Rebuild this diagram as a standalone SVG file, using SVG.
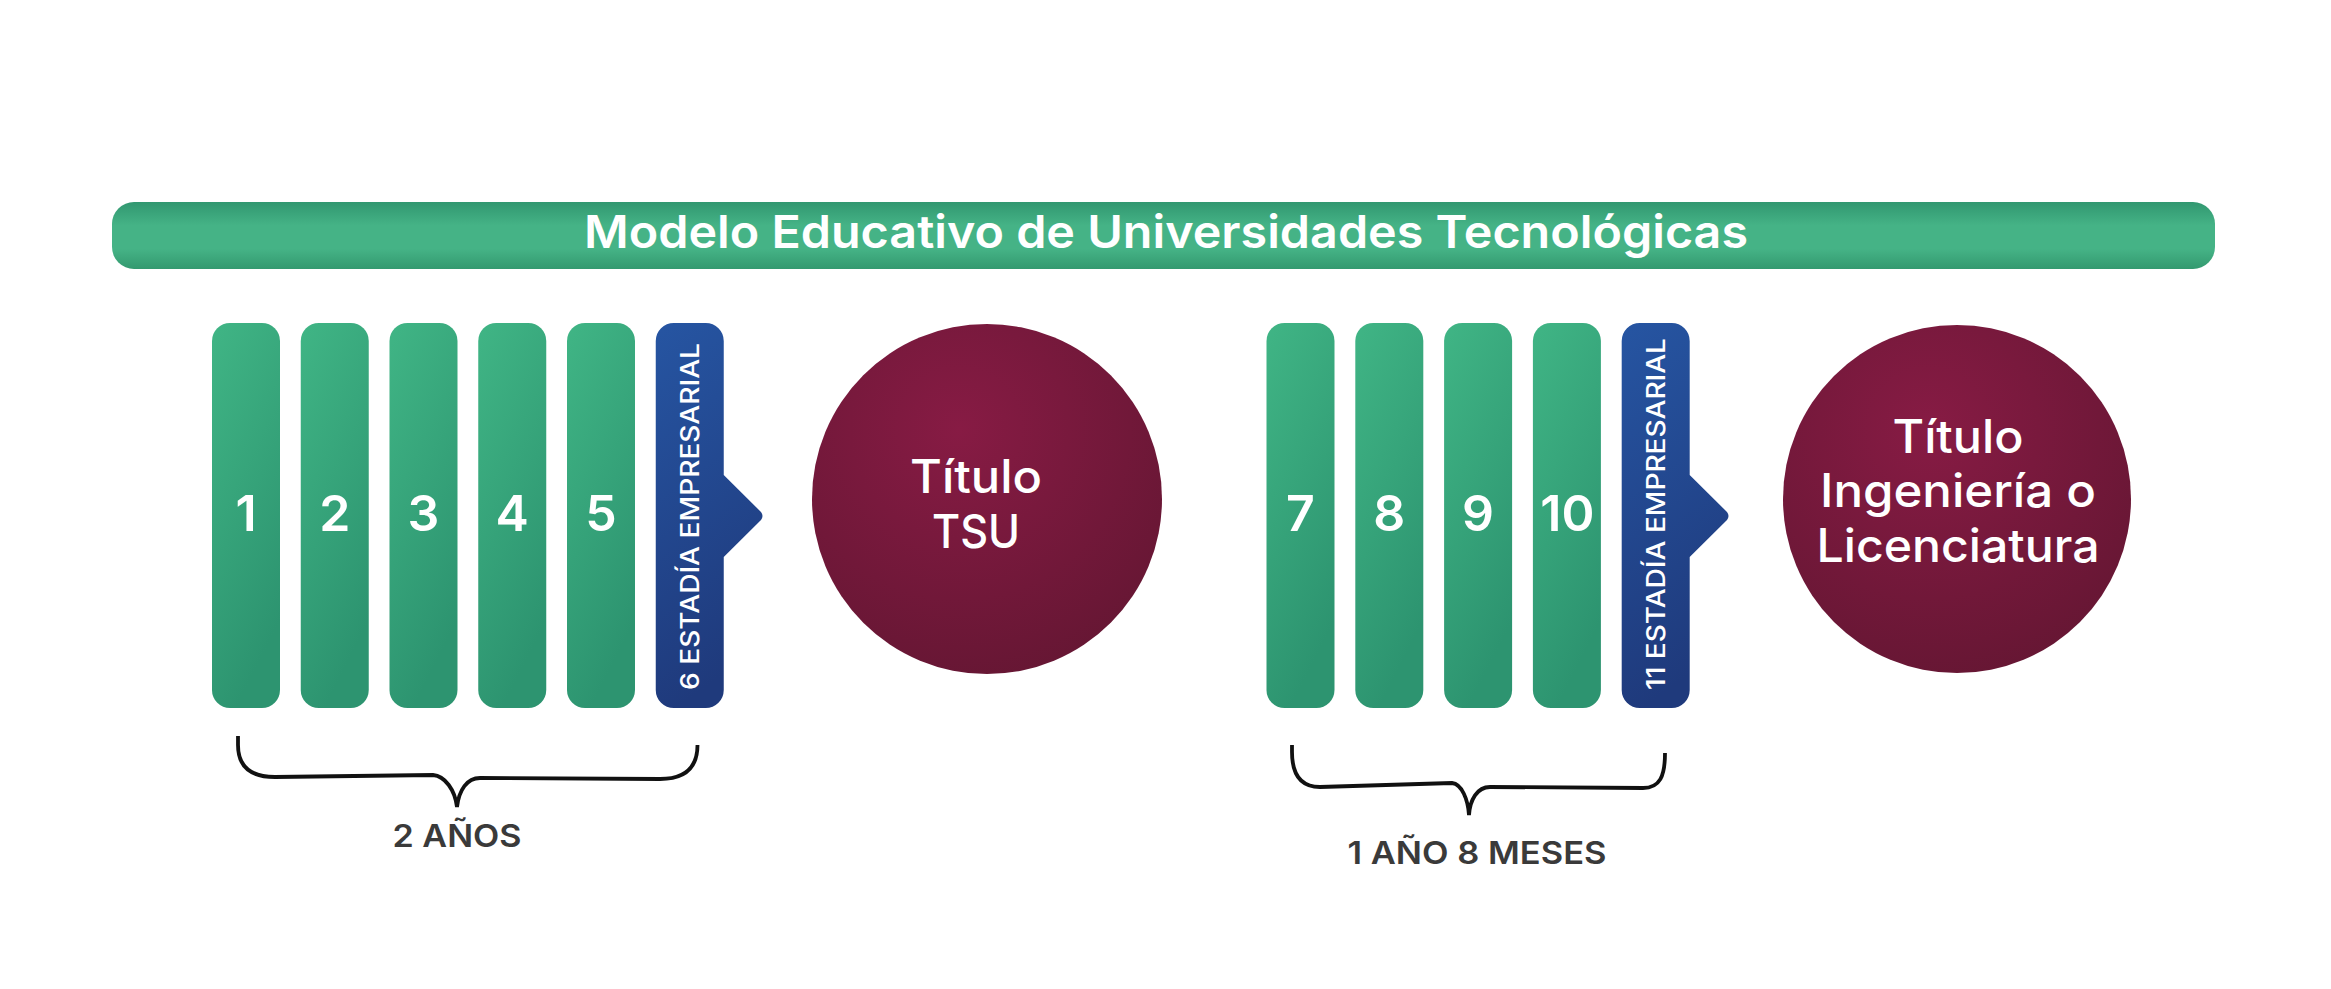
<svg xmlns="http://www.w3.org/2000/svg" width="2331" height="989" viewBox="0 0 2331 989">
<defs>
<linearGradient id="gBar" x1="0" y1="0" x2="0" y2="1">
<stop offset="0" stop-color="#319770"/>
<stop offset="0.35" stop-color="#45b386"/>
<stop offset="0.7" stop-color="#45b386"/>
<stop offset="1" stop-color="#33996f"/>
</linearGradient>
<linearGradient id="gGreen" x1="0" y1="0" x2="0.35" y2="1">
<stop offset="0" stop-color="#40b585"/>
<stop offset="1" stop-color="#2d9470"/>
</linearGradient>
<linearGradient id="gBlue" x1="0" y1="0" x2="0.2" y2="1">
<stop offset="0" stop-color="#2655a2"/>
<stop offset="1" stop-color="#1f3a7c"/>
</linearGradient>
<radialGradient id="gMaroon" cx="0.42" cy="0.3" r="0.8">
<stop offset="0" stop-color="#871b44"/>
<stop offset="1" stop-color="#631632"/>
</radialGradient>
<style>
.sem{fill:url(#gGreen);}
.est{fill:url(#gBlue);}
.tit{fill:url(#gMaroon);}
.num{font-family:Inter,"Liberation Sans",sans-serif;font-weight:600;font-size:50px;fill:#ffffff;text-anchor:middle;}
.vt{font-family:Inter,"Liberation Sans",sans-serif;font-weight:500;font-size:25px;fill:#ffffff;text-anchor:middle;}
.ct{font-family:Inter,"Liberation Sans",sans-serif;font-weight:500;font-size:46px;fill:#ffffff;text-anchor:middle;}
.hd{font-family:Inter,"Liberation Sans",sans-serif;font-weight:600;font-size:45px;fill:#ffffff;text-anchor:middle;}
.lb{font-family:Inter,"Liberation Sans",sans-serif;font-weight:600;font-size:31px;fill:#3a3a3a;text-anchor:middle;}
.br{fill:none;stroke:#111111;stroke-width:3.8;}
</style>
</defs>
<rect width="2331" height="989" fill="#ffffff"/>

<g id="header">
<rect x="112" y="202" width="2103" height="67" rx="22" fill="url(#gBar)"/>
<text class="hd" x="1166" y="248" textLength="1164" lengthAdjust="spacingAndGlyphs">Modelo Educativo de Universidades Tecnológicas</text>
</g>

<g id="sem1"><rect class="sem" x="212" y="323" width="68" height="385" rx="18"/><text class="num" x="246" y="531">1</text></g>
<g id="sem2"><rect class="sem" x="300.75" y="323" width="68" height="385" rx="18"/><text class="num" x="334.75" y="531">2</text></g>
<g id="sem3"><rect class="sem" x="389.5" y="323" width="68" height="385" rx="18"/><text class="num" x="423.5" y="531">3</text></g>
<g id="sem4"><rect class="sem" x="478.25" y="323" width="68" height="385" rx="18"/><text class="num" x="512.25" y="531">4</text></g>
<g id="sem5"><rect class="sem" x="567" y="323" width="68" height="385" rx="18"/><text class="num" x="601" y="531">5</text></g>
<g id="estadia6">
<path class="est" d="M673.75,323 H705.75 A18,18 0 0 1 723.75,341 V475 L761,512 Q764,516 761,520 L723.75,557 V690 A18,18 0 0 1 705.75,708 H673.75 A18,18 0 0 1 655.75,690 V341 A18,18 0 0 1 673.75,323 Z"/>
<text class="vt" transform="translate(699,516.5) rotate(-90)" x="0" y="0" textLength="347" lengthAdjust="spacingAndGlyphs">6 ESTADÍA EMPRESARIAL</text>
</g>
<g id="tituloTSU">
<circle class="tit" cx="987" cy="499" r="175"/>
<text class="ct" x="976" y="493" textLength="132" lengthAdjust="spacingAndGlyphs">Título</text>
<text class="ct" x="976" y="548" textLength="88" lengthAdjust="spacingAndGlyphs">TSU</text>
</g>

<g id="sem7"><rect class="sem" x="1266.5" y="323" width="68" height="385" rx="18"/><text class="num" x="1300.5" y="531">7</text></g>
<g id="sem8"><rect class="sem" x="1355.3" y="323" width="68" height="385" rx="18"/><text class="num" x="1389.3" y="531">8</text></g>
<g id="sem9"><rect class="sem" x="1444.1" y="323" width="68" height="385" rx="18"/><text class="num" x="1478.1" y="531">9</text></g>
<g id="sem10"><rect class="sem" x="1532.9" y="323" width="68" height="385" rx="18"/><text class="num" x="1567.4" y="531">10</text></g>
<g id="estadia11">
<path class="est" d="M1639.7,323 H1671.7 A18,18 0 0 1 1689.7,341 V475 L1727,512 Q1730,516 1727,520 L1689.7,557 V690 A18,18 0 0 1 1671.7,708 H1639.7 A18,18 0 0 1 1621.7,690 V341 A18,18 0 0 1 1639.7,323 Z"/>
<text class="vt" transform="translate(1665,514) rotate(-90)" x="0" y="0" textLength="352" lengthAdjust="spacingAndGlyphs">11 ESTADÍA EMPRESARIAL</text>
</g>
<g id="tituloIng">
<circle class="tit" cx="1957" cy="499" r="174"/>
<text class="ct" x="1958" y="453" textLength="131" lengthAdjust="spacingAndGlyphs">Título</text>
<text class="ct" x="1958" y="507" textLength="276" lengthAdjust="spacingAndGlyphs">Ingeniería o</text>
<text class="ct" x="1958" y="562" textLength="283" lengthAdjust="spacingAndGlyphs">Licenciatura</text>
</g>

<g id="connectors">
<path class="br" d="M238,736 L238,745 C238,768 252,777 275,777 L433,775 C445,776 455,790 457,807 C459,790 467,778 480,778 L660,779 C685,779 697.5,768 697.5,745"/>
<path class="br" d="M1292,745 L1292,752 C1292,776 1302,787 1320,787 L1452,783 C1462,784 1468,800 1469,815 C1470,800 1477,787 1490,787 L1643,788 C1660,788 1665,776 1665,753"/>
</g>

<g id="label2anos"><text class="lb" x="457" y="847" textLength="129" lengthAdjust="spacingAndGlyphs">2 AÑOS</text></g>
<g id="label1ano8"><text class="lb" x="1477" y="864" textLength="259" lengthAdjust="spacingAndGlyphs">1 AÑO 8 MESES</text></g>
</svg>
